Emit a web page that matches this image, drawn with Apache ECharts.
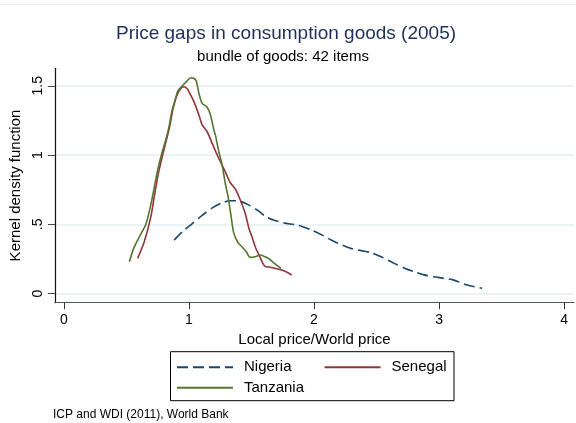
<!DOCTYPE html>
<html>
<head>
<meta charset="utf-8">
<script src="https://cdn.jsdelivr.net/npm/echarts@6/dist/echarts.min.js"></script>
<style>
  html, body { margin: 0; padding: 0; background: #fff; }
  #chart { width: 576px; height: 423px; }
</style>
</head>
<body>
<div id="chart"></div>
<script>
// Kernel density estimates of local/world price ratios, 42-item bundle (2005)
const seriesNames = ['Nigeria', 'Senegal', 'Tanzania'];

const nigeria = [
  [0.882, 0.386], [0.948, 0.446], [1.02, 0.50], [1.106, 0.565], [1.19, 0.62],
  [1.265, 0.655], [1.331, 0.670], [1.40, 0.668], [1.477, 0.64], [1.55, 0.60],
  [1.61, 0.558], [1.68, 0.53], [1.76, 0.510], [1.875, 0.492], [1.98, 0.458],
  [2.07, 0.42], [2.165, 0.374], [2.298, 0.326], [2.377, 0.31], [2.457, 0.295],
  [2.55, 0.26], [2.642, 0.218], [2.72, 0.185], [2.801, 0.157], [2.88, 0.135],
  [2.96, 0.121], [3.04, 0.11], [3.118, 0.097], [3.225, 0.061], [3.344, 0.038]
];

const senegal = [
  [0.59, 0.254], [0.643, 0.374], [0.696, 0.555], [0.723, 0.699], [0.752, 0.85],
  [0.79, 1.0], [0.815, 1.09], [0.845, 1.20], [0.87, 1.32], [0.90, 1.42],
  [0.93, 1.475], [0.961, 1.493], [0.985, 1.48], [1.0, 1.457], [1.04, 1.385],
  [1.08, 1.289], [1.106, 1.217], [1.146, 1.168], [1.186, 1.084], [1.226, 1.0],
  [1.265, 0.928], [1.30, 0.86], [1.331, 0.80], [1.371, 0.755], [1.411, 0.675],
  [1.45, 0.579], [1.48, 0.47], [1.504, 0.41], [1.53, 0.338], [1.557, 0.285],
  [1.59, 0.22], [1.61, 0.196], [1.65, 0.19], [1.689, 0.182], [1.742, 0.17],
  [1.78, 0.155], [1.821, 0.134]
];

const tanzania = [
  [0.524, 0.23], [0.56, 0.33], [0.604, 0.41], [0.656, 0.50], [0.70, 0.66],
  [0.73, 0.80], [0.75, 0.89], [0.78, 1.00], [0.815, 1.11], [0.84, 1.20],
  [0.865, 1.32], [0.894, 1.41], [0.91, 1.46], [0.948, 1.50], [0.98, 1.53],
  [1.014, 1.558], [1.04, 1.554], [1.06, 1.53], [1.08, 1.445], [1.106, 1.373],
  [1.146, 1.345], [1.172, 1.29], [1.20, 1.18], [1.212, 1.144], [1.24, 1.02],
  [1.265, 0.93], [1.29, 0.80], [1.318, 0.675], [1.34, 0.54], [1.358, 0.44],
  [1.39, 0.37], [1.424, 0.338], [1.46, 0.30], [1.49, 0.261], [1.53, 0.265],
  [1.57, 0.278], [1.60, 0.27], [1.636, 0.254], [1.68, 0.22], [1.736, 0.182]
];

const xTicks = [0, 1, 2, 3, 4];
const yTicks = [0, 0.5, 1, 1.5];
const yTickLabels = ['0', '.5', '1', '1.5'];

const colors = ['#1a476f', '#90353b', '#55752f'];
const font = 'Liberation Sans, Arial, Helvetica, sans-serif';

const chart = echarts.init(document.getElementById('chart'), null, { renderer: 'canvas' });

function lineSeries(name, data, color, dash) {
  return {
    name: name,
    type: 'line',
    data: data,
    symbol: 'none',
    smooth: 0.25,
    silent: true,
    animation: false,
    lineStyle: { color: color, width: 1.6, type: dash || 'solid' },
    itemStyle: { color: color }
  };
}

chart.setOption({
  backgroundColor: '#ffffff',
  animation: false,
  title: [
    {
      text: 'Price gaps in consumption goods (2005)',
      left: 286, top: 24.5, padding: 0, textAlign: 'center',
      textStyle: { fontFamily: font, fontSize: 19, fontWeight: 'normal', color: '#1e2f5c' }
    },
    {
      text: 'bundle of goods: 42 items',
      left: 283, top: 49, padding: 0, textAlign: 'center',
      textStyle: { fontFamily: font, fontSize: 15, fontWeight: 'normal', color: '#000' }
    },
    {
      text: 'ICP and WDI (2011), World Bank',
      left: 53, top: 408.5, padding: 0,
      textStyle: { fontFamily: font, fontSize: 12, fontWeight: 'normal', color: '#000' }
    }
  ],
  grid: { left: 51.7, right: 2, top: 68.3, bottom: 120.3, containLabel: false },
  xAxis: {
    type: 'value',
    min: -0.0715, max: 4.079,
    name: 'Local price/World price',
    nameLocation: 'middle', nameGap: 26.3,
    nameTextStyle: { fontFamily: font, fontSize: 15, color: '#000' },
    axisLine: { show: true, onZero: false, lineStyle: { color: '#555', width: 1.2 } },
    axisTick: { show: true, length: 6.5, customValues: xTicks, lineStyle: { color: '#333', width: 1 } },
    axisLabel: {
      customValues: xTicks, margin: 10.5,
      fontFamily: font, fontSize: 14, color: '#000'
    },
    splitLine: { show: false }
  },
  yAxis: {
    type: 'value',
    min: -0.066, max: 1.626,
    name: 'Kernel density function',
    nameLocation: 'middle', nameGap: 26,
    nameTextStyle: { fontFamily: font, fontSize: 15, color: '#000' },
    axisLine: { show: true, onZero: false, lineStyle: { color: '#111', width: 1.2 } },
    axisTick: { show: true, length: 7, customValues: yTicks, lineStyle: { color: '#444', width: 1 } },
    axisLabel: {
      customValues: yTicks, rotate: 90, margin: 10,
      fontFamily: font, fontSize: 14, color: '#000',
      formatter: function (v) {
        const i = yTicks.indexOf(v);
        return i >= 0 ? yTickLabels[i] : '';
      }
    },
    splitLine: { show: true, lineStyle: { color: '#e5eef1', width: 1.5 } }
  },
  legend: [
    {
      data: ['Nigeria', 'Senegal'],
      left: 176, top: 359.7, padding: 0,
      orient: 'horizontal',
      itemWidth: 56, itemHeight: 14, itemGap: 32,
      selectedMode: false,
      itemStyle: { opacity: 0 },
      textStyle: { fontFamily: font, fontSize: 15, color: '#000', padding: [0, 0, 0, 6] }
    },
    {
      data: ['Tanzania'],
      left: 176, top: 380.3, padding: 0,
      orient: 'horizontal',
      itemWidth: 56, itemHeight: 14,
      selectedMode: false,
      itemStyle: { opacity: 0 },
      textStyle: { fontFamily: font, fontSize: 15, color: '#000', padding: [0, 0, 0, 6] }
    }
  ],
  graphic: [
    {
      type: 'rect', silent: true, z: -1,
      shape: { x: 170.5, y: 351.7, width: 283.5, height: 49 },
      style: { fill: 'none', stroke: '#000', lineWidth: 1 }
    },
    {
      type: 'line', silent: true, z: -1,
      shape: { x1: 0, y1: 4.5, x2: 576, y2: 4.5 },
      style: { stroke: '#e6edf1', lineWidth: 1 }
    }
  ],
  series: [
    lineSeries(seriesNames[0], nigeria, colors[0], [11, 5]),
    lineSeries(seriesNames[1], senegal, colors[1]),
    lineSeries(seriesNames[2], tanzania, colors[2])
  ]
});
</script>
</body>
</html>
